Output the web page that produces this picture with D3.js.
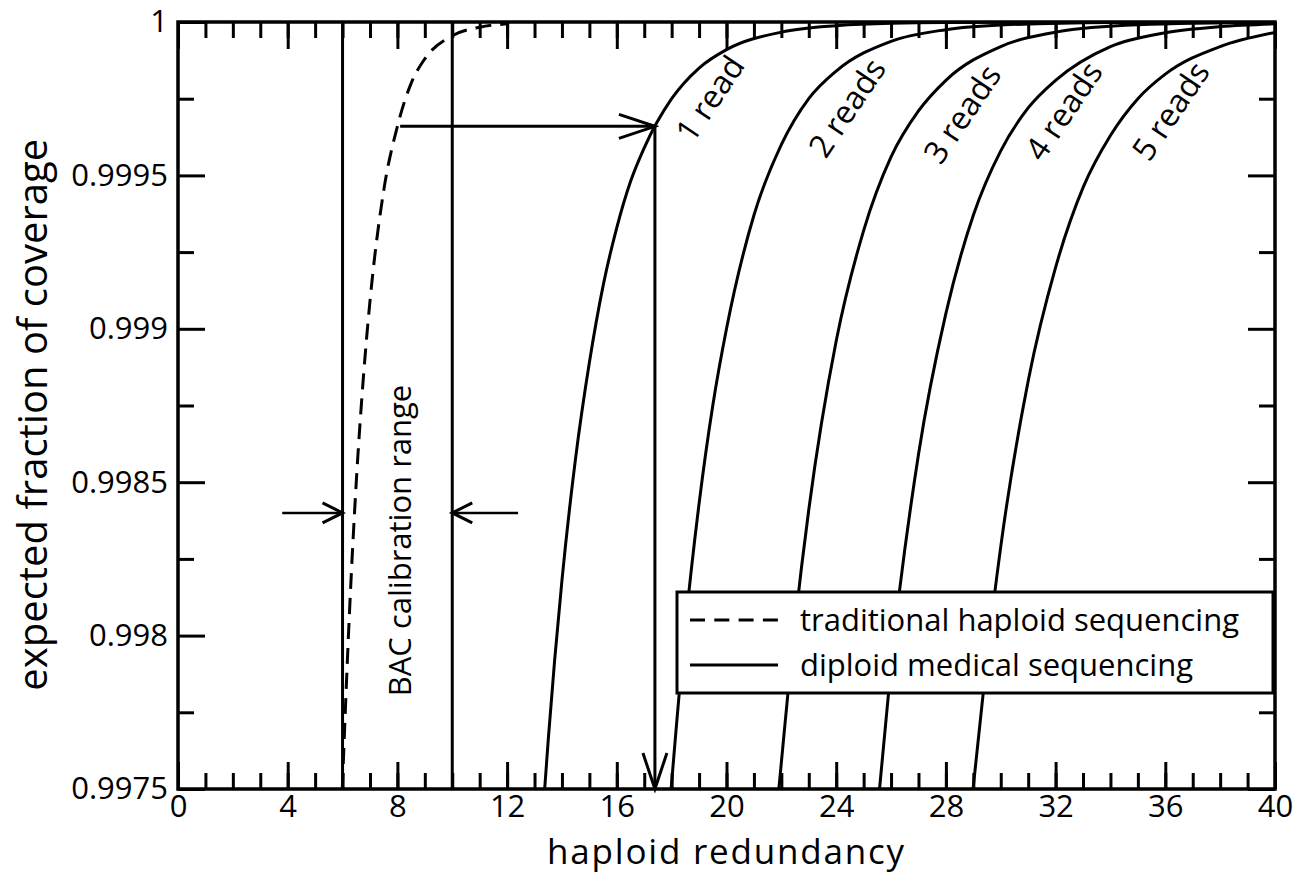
<!DOCTYPE html>
<html>
<head>
<meta charset="utf-8">
<script src="https://cdn.jsdelivr.net/npm/d3@7"></script>
<style>
  body { margin: 0; background: #fff; }
  text { font-family: "Open Sans", "Noto Sans", sans-serif; fill: #000; }
</style>
</head>
<body>
<svg id="chart" width="1304" height="877"></svg>
<script>
// haploid redundancy values and expected coverage
const haploidX = [5.99, 6.25, 6.5, 6.75, 7, 7.5, 8, 8.5, 9, 10, 11, 12];
const haploidY = [0.99750, 0.99807, 0.99850, 0.99883, 0.99909, 0.99945, 0.99966, 0.99980, 0.99988, 0.999955, 0.999983, 0.999994];

const read1X = [13.37, 13.5, 14, 14.5, 15, 15.5, 16, 16.5, 17, 18, 19, 20, 22, 24, 26, 30, 40];
const read1Y = [0.99750, 0.99766, 0.99818, 0.99858, 0.99889, 0.99914, 0.99933, 0.99948, 0.99959, 0.99975, 0.99985, 0.99991, 0.999967, 0.999988, 0.999996, 0.9999994, 1];

const read2X = [17.98, 18.5, 19, 19.5, 20, 21, 22, 23, 24, 26, 28, 30, 34, 40];
const read2Y = [0.99750, 0.99803, 0.99843, 0.99875, 0.99900, 0.99937, 0.99960, 0.99975, 0.99984, 0.999937, 0.999975, 0.99999, 0.9999985, 1];

const read3X = [21.91, 22.5, 23, 24, 25, 26, 27, 28, 30, 32, 35, 40];
const read3Y = [0.99750, 0.99804, 0.99841, 0.99896, 0.99932, 0.99956, 0.99971, 0.99981, 0.99992, 0.999967, 0.999991, 0.999999];

const read4X = [25.58, 26, 27, 28, 29, 30, 31, 32, 34, 36, 38, 40];
const read4Y = [0.99750, 0.99790, 0.99859, 0.99905, 0.99937, 0.99958, 0.99972, 0.99981, 0.99992, 0.999965, 0.999985, 0.999994];

const read5X = [28.99, 29.5, 30, 31, 32, 33, 34, 35, 36, 38, 40];
const read5Y = [0.99750, 0.99793, 0.99829, 0.99883, 0.99920, 0.99946, 0.99963, 0.99975, 0.99983, 0.99992, 0.999966];

const curveLabels = ["1 read", "2 reads", "3 reads", "4 reads", "5 reads"];
const curveLabelX = [19.4, 24.4, 28.6, 32.3, 36.2];
const curveLabelY = [0.99975, 0.99972, 0.9997, 0.99971, 0.99971];

const xMajorTicks = [0, 4, 8, 12, 16, 20, 24, 28, 32, 36, 40];
const xMinorTicks = d3.range(0, 41, 1);
const yMajorTicks = [0.9975, 0.998, 0.9985, 0.999, 0.9995, 1];
const yTickLabels = ["0.9975", "0.998", "0.9985", "0.999", "0.9995", "1"];
const yMinorTicks = [0.99775, 0.99825, 0.99875, 0.99925, 0.99975];

const bacLines = [6, 10];
const bacArrowFrom = [3.8, 12.4];
const bacArrowTo = [6, 10];
const bacArrowY = 0.9984;
const mapFrom = [8.1, 0.99966];
const mapCorner = [17.39, 0.99966];
const mapTo = [17.39, 0.9975];

const legendLabels = ["traditional haploid sequencing", "diploid medical sequencing"];

const width = 1304, height = 877;
const margin = { top: 22, right: 29, bottom: 88, left: 178 };

const svg = d3.select("#chart");

const x = d3.scaleLinear().domain([0, 40]).range([margin.left, width - margin.right]);
const y = d3.scaleLinear().domain([0.9975, 1]).range([height - margin.bottom, margin.top]);

// clip for curves
svg.append("clipPath").attr("id", "plotClip")
  .append("rect")
  .attr("x", x(0)).attr("y", y(1))
  .attr("width", x(40) - x(0)).attr("height", y(0.9975) - y(1));

// arrow markers
const defs = svg.append("defs");
defs.append("marker").attr("id", "headBig")
  .attr("markerUnits", "userSpaceOnUse")
  .attr("viewBox", "-40 -16 44 32")
  .attr("markerWidth", 44).attr("markerHeight", 32)
  .attr("refX", 0).attr("refY", 0).attr("orient", "auto")
  .append("path").attr("d", "M-36,-12L0,0L-36,12")
  .attr("fill", "none").attr("stroke", "#000").attr("stroke-width", 3);
defs.append("marker").attr("id", "headSmall")
  .attr("markerUnits", "userSpaceOnUse")
  .attr("viewBox", "-24 -13 28 26")
  .attr("markerWidth", 28).attr("markerHeight", 26)
  .attr("refX", 0).attr("refY", 0).attr("orient", "auto")
  .append("path").attr("d", "M-20,-10L0,0L-20,10")
  .attr("fill", "none").attr("stroke", "#000").attr("stroke-width", 3);

// axes with inward ticks
function styleAxis(g) {
  g.select(".domain").remove();
  g.selectAll(".tick line").attr("stroke", "#000").attr("stroke-width", 3);
  g.selectAll(".tick text").style("font-size", "31px").style("font-family", "'Open Sans', sans-serif");
}

svg.append("g")
  .attr("transform", `translate(0,${y(0.9975)})`)
  .call(d3.axisBottom(x).tickValues(xMinorTicks).tickSize(-16).tickFormat(""))
  .call(styleAxis);
svg.append("g")
  .attr("transform", `translate(0,${y(0.9975)})`)
  .call(d3.axisBottom(x).tickValues(xMajorTicks).tickSize(-27).tickPadding(6).tickFormat(d3.format("d")))
  .call(styleAxis);
svg.append("g")
  .attr("transform", `translate(0,${y(1)})`)
  .call(d3.axisTop(x).tickValues(xMinorTicks).tickSize(-16).tickFormat(""))
  .call(styleAxis);
svg.append("g")
  .attr("transform", `translate(0,${y(1)})`)
  .call(d3.axisTop(x).tickValues(xMajorTicks).tickSize(-27).tickFormat(""))
  .call(styleAxis);

svg.append("g")
  .attr("transform", `translate(${x(0)},0)`)
  .call(d3.axisLeft(y).tickValues(yMinorTicks).tickSize(-16).tickFormat(""))
  .call(styleAxis);
svg.append("g")
  .attr("transform", `translate(${x(0)},0)`)
  .call(d3.axisLeft(y).tickValues(yMajorTicks).tickSize(-27).tickPadding(10)
    .tickFormat((d, i) => yTickLabels[i]))
  .call(styleAxis);
svg.append("g")
  .attr("transform", `translate(${x(40)},0)`)
  .call(d3.axisRight(y).tickValues(yMinorTicks).tickSize(-16).tickFormat(""))
  .call(styleAxis);
svg.append("g")
  .attr("transform", `translate(${x(40)},0)`)
  .call(d3.axisRight(y).tickValues(yMajorTicks).tickSize(-27).tickFormat(""))
  .call(styleAxis);

// frame
svg.append("rect")
  .attr("x", x(0)).attr("y", y(1))
  .attr("width", x(40) - x(0)).attr("height", y(0.9975) - y(1))
  .attr("fill", "none").attr("stroke", "#000").attr("stroke-width", 3.5);

// BAC calibration lines
svg.selectAll(".bac").data(bacLines).enter().append("line")
  .attr("x1", d => x(d)).attr("x2", d => x(d))
  .attr("y1", y(1)).attr("y2", y(0.9975))
  .attr("stroke", "#000").attr("stroke-width", 3);

const line = d3.line().x(d => x(d[0])).y(d => y(d[1])).curve(d3.curveMonotoneX);
const curves = svg.append("g").attr("clip-path", "url(#plotClip)");

curves.append("path")
  .attr("d", line(d3.zip(haploidX, haploidY)))
  .attr("fill", "none").attr("stroke", "#000").attr("stroke-width", 3)
  .attr("stroke-dasharray", "16,9");

[[read1X, read1Y], [read2X, read2Y], [read3X, read3Y], [read4X, read4Y], [read5X, read5Y]].forEach(s => {
  curves.append("path")
    .attr("d", line(d3.zip(s[0], s[1])))
    .attr("fill", "none").attr("stroke", "#000").attr("stroke-width", 3);
});

// curve labels
svg.selectAll(".clabel").data(curveLabels).enter().append("text")
  .attr("transform", (d, i) => `translate(${x(curveLabelX[i])},${y(curveLabelY[i])}) rotate(-56)`)
  .attr("text-anchor", "middle").attr("dy", "0.35em")
  .style("font-size", "32px")
  .text(d => d);

// BAC arrows and label
bacArrowFrom.forEach((f, i) => {
  svg.append("line")
    .attr("x1", x(f)).attr("x2", x(bacArrowTo[i]))
    .attr("y1", y(bacArrowY)).attr("y2", y(bacArrowY))
    .attr("stroke", "#000").attr("stroke-width", 2.5)
    .attr("marker-end", "url(#headSmall)");
});
svg.append("text")
  .attr("transform", `translate(${x(8.1)},${y(0.99831)}) rotate(-90)`)
  .attr("text-anchor", "middle").attr("dy", "0.35em")
  .style("font-size", "31px")
  .text("BAC calibration range");

// mapping arrows from haploid to 1-read curve and down to axis
svg.append("line")
  .attr("x1", x(mapFrom[0])).attr("x2", x(mapCorner[0]))
  .attr("y1", y(mapFrom[1])).attr("y2", y(mapCorner[1]))
  .attr("stroke", "#000").attr("stroke-width", 3)
  .attr("marker-end", "url(#headBig)");
svg.append("line")
  .attr("x1", x(mapCorner[0])).attr("x2", x(mapTo[0]))
  .attr("y1", y(mapCorner[1])).attr("y2", y(mapTo[1]))
  .attr("stroke", "#000").attr("stroke-width", 3)
  .attr("marker-end", "url(#headBig)");

// legend
const legend = svg.append("g").attr("transform", "translate(677,592)");
legend.append("rect")
  .attr("width", 596).attr("height", 101)
  .attr("fill", "#fff").attr("stroke", "#000").attr("stroke-width", 3);
legendLabels.forEach((lab, i) => {
  const ly = 28 + i * 45;
  legend.append("line")
    .attr("x1", 13).attr("x2", 101).attr("y1", ly).attr("y2", ly)
    .attr("stroke", "#000").attr("stroke-width", 3)
    .attr("stroke-dasharray", i === 0 ? "15,9.3" : null);
  legend.append("text")
    .attr("x", 123).attr("y", ly).attr("dy", "0.35em")
    .style("font-size", "31px")
    .text(lab);
});

// axis titles
svg.append("text")
  .attr("x", x(20)).attr("y", 864)
  .attr("text-anchor", "middle")
  .style("font-size", "35px")
  .style("letter-spacing", "1.8px")
  .text("haploid redundancy");
svg.append("text")
  .attr("transform", `translate(33,${y(0.99872)}) rotate(-90)`)
  .attr("text-anchor", "middle").attr("dy", "0.35em")
  .style("font-size", "40px")
  .text("expected fraction of coverage");
</script>
</body>
</html>
